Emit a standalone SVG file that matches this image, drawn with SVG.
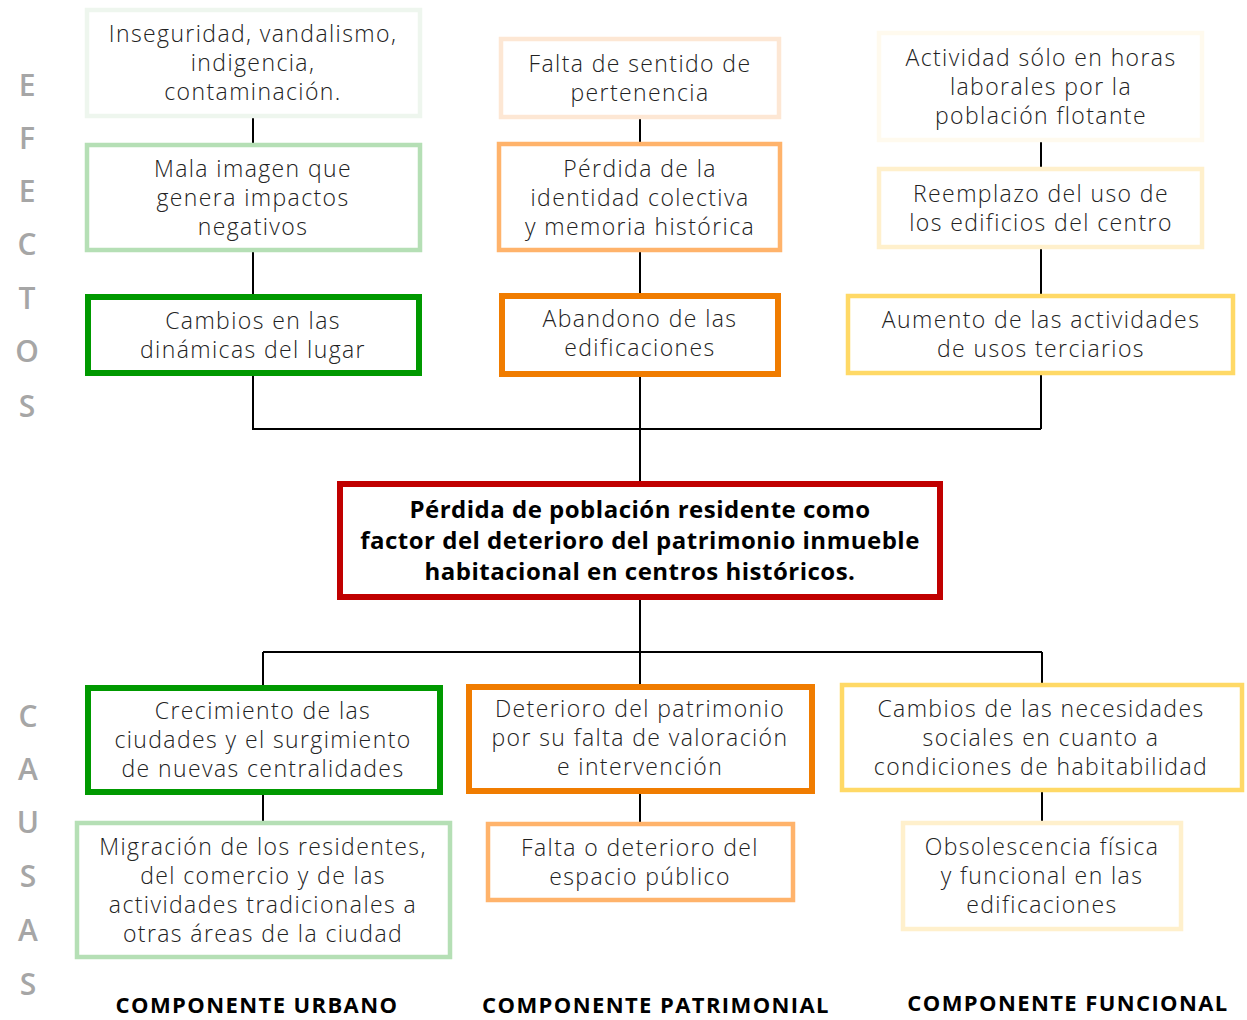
<svg xmlns="http://www.w3.org/2000/svg" width="1247" height="1020" viewBox="0 0 1247 1020">
<style>
.bx{fill:#fff;stroke-width:4.5}
.thick{stroke-width:6}
.t{font-family:"Open Sans","DejaVu Sans",sans-serif;font-weight:300;font-size:23px;fill:#222;text-anchor:middle;letter-spacing:1.4px}
.b{font-family:"Open Sans","DejaVu Sans",sans-serif;font-weight:700;font-size:24px;fill:#000;text-anchor:middle;letter-spacing:0.5px}
.side{font-family:"Open Sans","DejaVu Sans",sans-serif;font-weight:600;font-size:30px;fill:#a6a6a6;text-anchor:middle}
.lbl{font-family:"Open Sans","DejaVu Sans",sans-serif;font-weight:700;font-size:22px;fill:#000;text-anchor:middle;letter-spacing:1.4px}
.c{fill:none;stroke:#000;stroke-width:2}
</style>
<rect width="1247" height="1020" fill="#fff"/>
<g id="connectors">
<path class="c" d="M253 116V144M253 250V296M253 374V429H1041M1041 140V168M1041 248V294M1041 374V429M640 117V143M640 250V294M640 375V484M640 598V652M263 652H1042M263 652V686M640 652V685M1042 652V683M263 793V822M640 792V822M1042 791V822"/>
</g>
<g id="side-labels">
<text class="side" x="27" y="96">E</text>
<text class="side" x="27" y="149">F</text>
<text class="side" x="27" y="202">E</text>
<text class="side" x="27" y="255">C</text>
<text class="side" x="27" y="309">T</text>
<text class="side" x="27" y="362">O</text>
<text class="side" x="27" y="417">S</text>
<text class="side" x="28" y="727">C</text>
<text class="side" x="28" y="780">A</text>
<text class="side" x="28" y="833">U</text>
<text class="side" x="28" y="887">S</text>
<text class="side" x="28" y="941">A</text>
<text class="side" x="28" y="995">S</text>
</g>
<g id="e-urb-1"><rect class="bx" x="87" y="10" width="333" height="106" stroke="#eef6ee"/>
<text class="t" x="253" y="42">Inseguridad, vandalismo,</text><text class="t" x="253" y="71">indigencia,</text><text class="t" x="253" y="100">contaminación.</text></g>
<g id="e-urb-2"><rect class="bx" x="87" y="145" width="333" height="105" stroke="#b5dfb5"/>
<text class="t" x="253" y="177">Mala imagen que</text><text class="t" x="253" y="206">genera impactos</text><text class="t" x="253" y="235">negativos</text></g>
<g id="e-urb-3"><rect class="bx thick" x="88" y="297" width="331" height="76" stroke="#009900"/>
<text class="t" x="253" y="329">Cambios en las</text><text class="t" x="253" y="358">dinámicas del lugar</text></g>
<g id="e-pat-1"><rect class="bx" x="501" y="39" width="278" height="78" stroke="#fde7d4"/>
<text class="t" x="640" y="72">Falta de sentido de</text><text class="t" x="640" y="101">pertenencia</text></g>
<g id="e-pat-2"><rect class="bx" x="499" y="144" width="281" height="106" stroke="#ffb36b"/>
<text class="t" x="640" y="177">Pérdida de la</text><text class="t" x="640" y="206">identidad colectiva</text><text class="t" x="640" y="235">y memoria histórica</text></g>
<g id="e-pat-3"><rect class="bx thick" x="502" y="296" width="276" height="78" stroke="#f07c00"/>
<text class="t" x="640" y="327">Abandono de las</text><text class="t" x="640" y="356">edificaciones</text></g>
<g id="e-fun-1"><rect class="bx" x="879" y="33" width="323" height="107" stroke="#fffaee"/>
<text class="t" x="1041" y="66">Actividad sólo en horas</text><text class="t" x="1041" y="95">laborales por la</text><text class="t" x="1041" y="124">población flotante</text></g>
<g id="e-fun-2"><rect class="bx" x="879" y="169" width="323" height="78" stroke="#fff0cc"/>
<text class="t" x="1041" y="202">Reemplazo del uso de</text><text class="t" x="1041" y="231">los edificios del centro</text></g>
<g id="e-fun-3"><rect class="bx" x="848" y="296" width="385" height="77" stroke="#ffd966" stroke-width="5"/>
<text class="t" x="1041" y="328">Aumento de las actividades</text><text class="t" x="1041" y="357">de usos terciarios</text></g>
<g id="central"><rect class="bx thick" x="340" y="484" width="600" height="113" stroke="#c00000"/>
<text class="b" x="640" y="518">Pérdida de población residente como</text><text class="b" x="640" y="549">factor del deterioro del patrimonio inmueble</text><text class="b" x="640" y="580">habitacional en centros históricos.</text></g>
<g id="c-urb-1"><rect class="bx thick" x="88" y="688" width="352" height="104" stroke="#009900"/>
<text class="t" x="263" y="719">Crecimiento de las</text><text class="t" x="263" y="748">ciudades y el surgimiento</text><text class="t" x="263" y="777">de nuevas centralidades</text></g>
<g id="c-urb-2"><rect class="bx" x="77" y="823" width="373" height="134" stroke="#b5dfb5"/>
<text class="t" x="263" y="855">Migración de los residentes,</text><text class="t" x="263" y="884">del comercio y de las</text><text class="t" x="263" y="913">actividades tradicionales a</text><text class="t" x="263" y="942">otras áreas de la ciudad</text></g>
<g id="c-pat-1"><rect class="bx thick" x="469" y="687" width="343" height="104" stroke="#f07c00"/>
<text class="t" x="640" y="717">Deterioro del patrimonio</text><text class="t" x="640" y="746">por su falta de valoración</text><text class="t" x="640" y="775">e intervención</text></g>
<g id="c-pat-2"><rect class="bx" x="488" y="824" width="305" height="76" stroke="#ffb36b" stroke-width="5"/>
<text class="t" x="640" y="856">Falta o deterioro del</text><text class="t" x="640" y="885">espacio público</text></g>
<g id="c-fun-1"><rect class="bx" x="842" y="685" width="400" height="105" stroke="#ffd966" stroke-width="5"/>
<text class="t" x="1041" y="717">Cambios de las necesidades</text><text class="t" x="1041" y="746">sociales en cuanto a</text><text class="t" x="1041" y="775">condiciones de habitabilidad</text></g>
<g id="c-fun-2"><rect class="bx" x="903" y="823" width="278" height="106" stroke="#fff0cc" stroke-width="5"/>
<text class="t" x="1042" y="855">Obsolescencia física</text><text class="t" x="1042" y="884">y funcional en las</text><text class="t" x="1042" y="913">edificaciones</text></g>
<g id="components">
<text class="lbl" x="257" y="1013">COMPONENTE URBANO</text>
<text class="lbl" x="656" y="1013">COMPONENTE PATRIMONIAL</text>
<text class="lbl" x="1068" y="1011">COMPONENTE FUNCIONAL</text>
</g>
</svg>
